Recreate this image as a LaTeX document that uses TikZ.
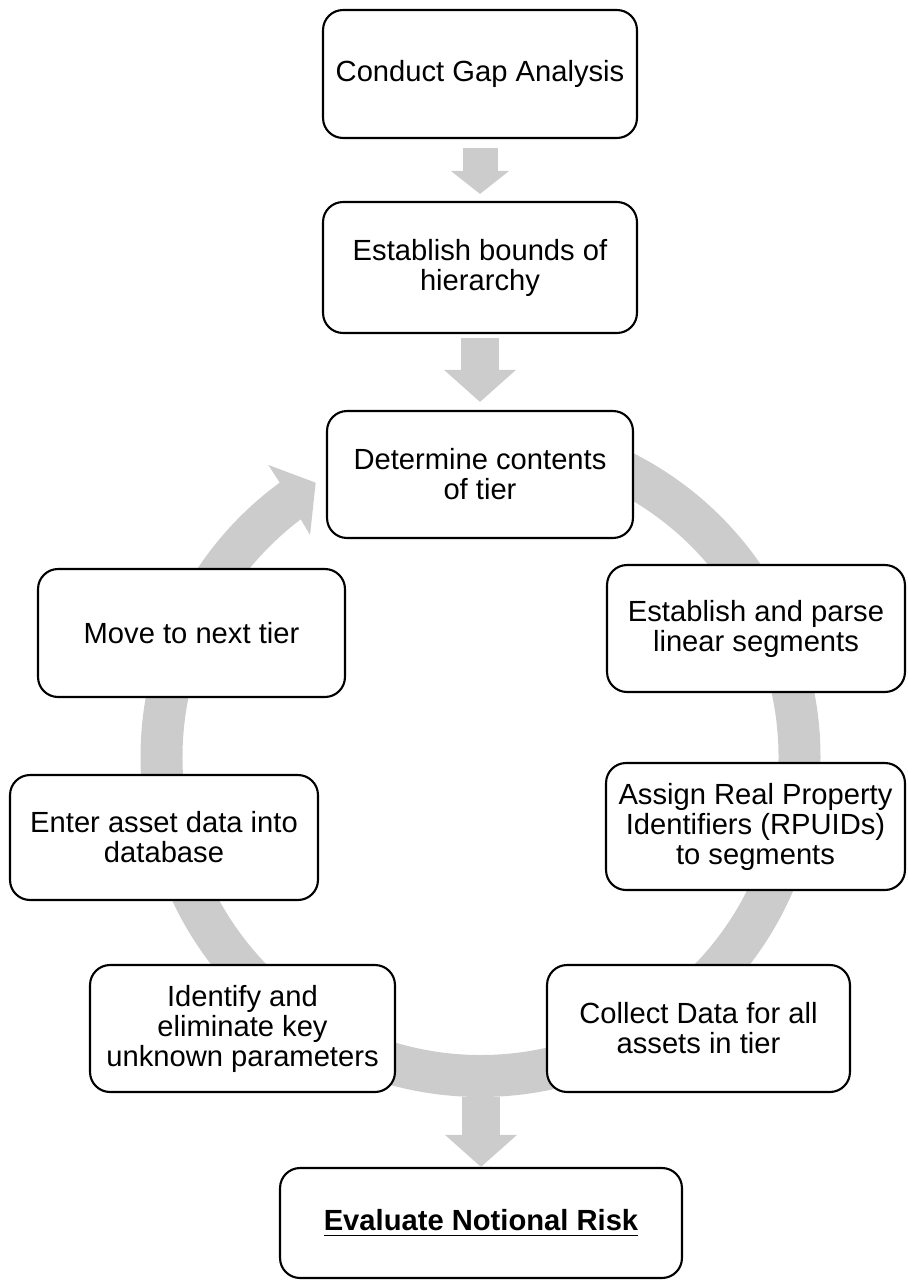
\documentclass[tikz,border=0pt]{standalone}
\usepackage{fontspec}
\setmainfont{Liberation Sans}
\usetikzlibrary{arrows.meta,calc}
\definecolor{ringgray}{RGB}{204,204,204}
% heavy underline
\newcommand\thickul[1]{\setbox0=\hbox{#1}\rlap{\rule[-3.3pt]{\wd0}{1.1pt}}\box0}
\begin{document}
\begin{tikzpicture}[x=0.02cm,y=-0.02cm,
  stage/.style={draw=black, line width=1.2pt, rounded corners=0.4cm, fill=white,
    align=center, inner sep=0pt, font=\fontsize{16.6}{17.1}\selectfont},
  smallflow/.style={draw=ringgray, line width=0.7cm,
    -{Triangle[width=1.14cm,length=0.46cm]}},
  bigflow/.style={draw=ringgray, line width=0.76cm,
    -{Triangle[width=1.4cm,length=0.64cm]}},
]
\useasboundingbox (0,0) rectangle (907,1281);

% the cycle ring with its arrowhead (drawn first, behind the boxes)
\begin{scope}[shift={(480.5,757)}]
  \fill[ringgray] (-90:340) arc[start angle=-90, end angle=233.8, radius=340]
    -- (234:361) -- (239:320) -- (232.5:280) -- (232.9:298)
    arc[start angle=232.9, end angle=-90, radius=298] -- cycle;
\end{scope}

% stages
\node[stage, minimum width=6.28cm, minimum height=2.56cm] (b1) at (480,74) {Conduct Gap Analysis};
\node[stage, minimum width=6.28cm, minimum height=2.62cm] (b2) at (480,267.5) {Establish bounds of\\hierarchy};
\node[stage, minimum width=6.12cm, minimum height=2.54cm] (b3) at (480,474.5) {Determine contents\\of tier};
\node[stage, minimum width=5.96cm, minimum height=2.54cm] (b4) at (756,628.5) {Establish and parse\\linear segments};
\node[stage, minimum width=5.98cm, minimum height=2.54cm] (b5) at (755.5,826.5) {Assign Real Property\\Identifiers (RPUIDs)\\to segments};
\node[stage, minimum width=6.06cm, minimum height=2.54cm] (b6) at (698.5,1028.5) {Collect Data for all\\assets in tier};
\node[stage, minimum width=6.10cm, minimum height=2.54cm] (b7) at (242.5,1028.5) {Identify and\\eliminate key\\unknown parameters};
\node[stage, minimum width=6.16cm, minimum height=2.50cm] (b8) at (164,837.5) {Enter asset data into\\database};
\node[stage, minimum width=6.14cm, minimum height=2.56cm] (b9) at (191.5,633) {Move to next tier};
\node[stage, minimum width=8.04cm, minimum height=2.20cm] (b10) at (481,1223) {\thickul{\bfseries Evaluate Notional Risk}};

% block arrows between stages
\coordinate (ringout) at (481,1097);
\draw[smallflow, shorten <=0.18cm, shorten >=0.14cm] (b1.south) -- (b2.north);
\draw[bigflow, shorten <=0.08cm, shorten >=0.16cm] (b2.south) -- (b3.north);
\draw[bigflow] (ringout) -- (b10.north);
\end{tikzpicture}
\end{document}
